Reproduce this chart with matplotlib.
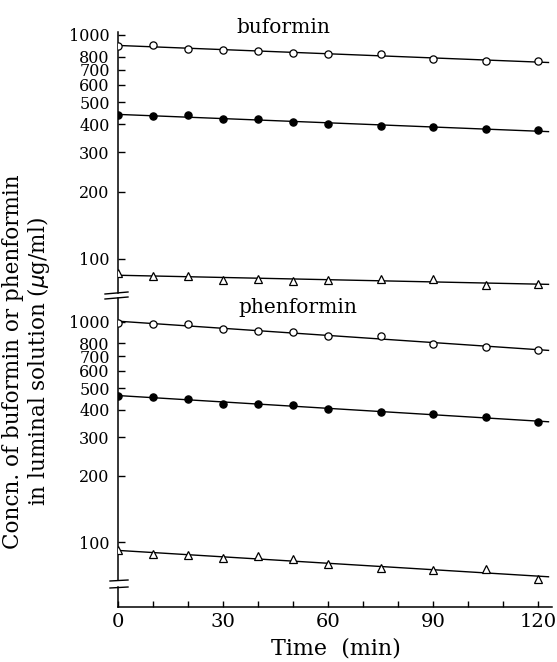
import numpy as np
import matplotlib
matplotlib.use("Agg")
import matplotlib.pyplot as plt
from matplotlib.lines import Line2D
from matplotlib.ticker import FixedLocator, FixedFormatter, NullLocator, MultipleLocator

plt.rcParams['font.family'] = 'DejaVu Serif'

# sampling times (min)
time = [0, 10, 20, 30, 40, 50, 60, 75, 90, 105, 120]

# buformin (ug/ml)
buf_open = [893, 902, 866, 857, 848, 831, 822, 822, 781, 765, 765]
buf_filled = [439, 435, 439, 422, 422, 409, 400, 392, 388, 380, 376]
buf_tri = [86.6, 83.9, 83.9, 80.5, 81.4, 79.8, 80.5, 81.4, 81.4, 76.6, 77.4]

# phenformin (ug/ml)
phen_open = [990, 980, 980, 930, 910, 900, 864, 864, 794, 770, 746]
phen_filled = [461, 456, 447, 424, 424, 420, 403, 390, 381, 370, 351]
phen_tri = [92.0, 88.1, 87.2, 84.6, 86.3, 83.7, 79.4, 76.2, 74.6, 75.4, 67.9]

ytick_vals = [100, 200, 300, 400, 500, 600, 700, 800, 1000]
ytick_labels = ['100', '200', '300', '400', '500', '600', '700', '800', '1000']
xtick_vals = [0, 30, 60, 90, 120]

W, H = 557, 662
fig = plt.figure(figsize=(W / 100, H / 100), dpi=100)


def px_box(left, top, right, bottom):
    return [left / W, 1 - bottom / H, (right - left) / W, (bottom - top) / H]


ax_top = fig.add_axes(px_box(118, 32, 552, 293))
ax_bot = fig.add_axes(px_box(118, 298, 552, 607))

t_line = np.linspace(0, 123, 50)


def draw_series(ax, values, marker, face):
    # log-linear fit line, then the points on top
    k, b = np.polyfit(time, np.log10(values), 1)
    ax.plot(t_line, 10 ** (k * t_line + b), color='black', lw=1.0, zorder=2)
    ax.plot(time, values, linestyle='', marker=marker, ms=5.5 if marker == '^' else 5.2,
            mfc=face, mec='black', mew=0.9, zorder=3)


for ax, series in [(ax_top, [buf_open, buf_filled, buf_tri]),
                   (ax_bot, [phen_open, phen_filled, phen_tri])]:
    draw_series(ax, series[0], 'o', 'white')
    draw_series(ax, series[1], 'o', 'black')
    draw_series(ax, series[2], '^', 'white')
    ax.set_yscale('log')
    ax.set_xlim(0, 124)
    ax.yaxis.set_major_locator(FixedLocator(ytick_vals))
    ax.yaxis.set_major_formatter(FixedFormatter(ytick_labels))
    ax.yaxis.set_minor_locator(NullLocator())
    ax.tick_params(axis='y', direction='in', length=5, width=1.0, pad=6, labelsize=11.5)
    for s in ['top', 'right']:
        ax.spines[s].set_visible(False)
    ax.spines['left'].set_linewidth(1.1)

ax_top.set_ylim(70.5, 1031)
ax_bot.set_ylim(50.7, 1285)

# top panel: no x axis
ax_top.spines['bottom'].set_visible(False)
ax_top.set_xticks([])

# bottom panel x axis
ax_bot.set_xticks(xtick_vals)
ax_bot.xaxis.set_minor_locator(MultipleLocator(10))
ax_bot.tick_params(axis='x', which='both', direction='in', length=4, width=1.0, pad=4, labelsize=14)
ax_bot.spines['bottom'].set_linewidth(1.1)

# broken left spine near the bottom of the lower panel
ax_bot.spines['left'].set_visible(False)
lo, hi = (607 - 587) / 309, (607 - 580) / 309
ax_bot.plot([0, 0], [0, lo], transform=ax_bot.transAxes, color='black', lw=1.1, clip_on=False)
ax_bot.plot([0, 0], [hi, 1], transform=ax_bot.transAxes, color='black', lw=1.1, clip_on=False)

# break marks
for (x0, y0, x1, y1) in [(105, 294, 128, 292), (105, 299, 128, 297),
                         (110, 581, 128, 580), (110, 588, 128, 587)]:
    fig.add_artist(Line2D([x0 / W, x1 / W], [1 - y0 / H, 1 - y1 / H],
                          transform=fig.transFigure, color='black', lw=1.0))

# panel labels
fig.text(236 / W, 1 - 33 / H, 'buformin', fontsize=14.5, ha='left', va='baseline')
fig.text(238 / W, 1 - 313 / H, 'phenformin', fontsize=14.5, ha='left', va='baseline')

# axis labels
fig.text(336 / W, 1 - 648 / H, 'Time  (min)', fontsize=16, ha='center', va='center')
fig.text(27 / W, 1 - 362 / H,
         'Concn. of buformin or phenformin\nin luminal solution ($\\mu$g/ml)',
         fontsize=15.5, rotation=90, ha='center', va='center',
         multialignment='center', linespacing=1.05)

fig.savefig('out.png', dpi=100)
